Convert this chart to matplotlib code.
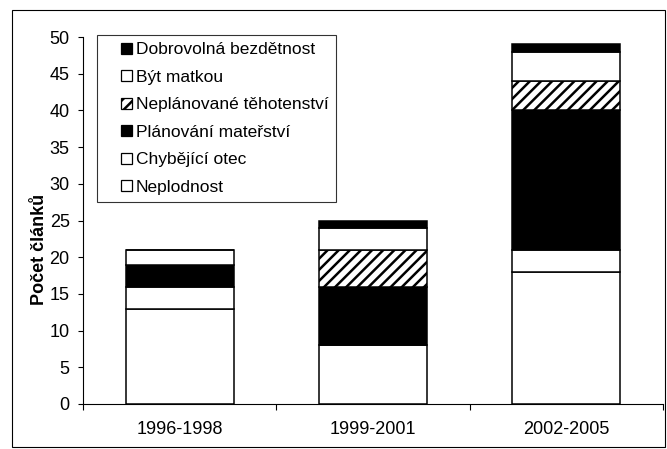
"""Stacked bar chart: Počet článků by period and topic."""

import matplotlib

matplotlib.use("Agg")
import matplotlib.pyplot as plt
from matplotlib.container import BarContainer
from matplotlib.legend_handler import HandlerPatch, update_from_first_child
from matplotlib.patches import Rectangle
import numpy as np

plt.rcParams.update(
    {
        "font.family": ["Liberation Sans", "DejaVu Sans"],
        "font.size": 13,
        "hatch.linewidth": 1.8,
        "hatch.color": "black",
    }
)

periods = ["1996-1998", "1999-2001", "2002-2005"]

# stack order, bottom to top
topics = [
    "Neplodnost",
    "Chybějící otec",
    "Plánování mateřství",
    "Neplánované těhotenství",
    "Být matkou",
    "Dobrovolná bezdětnost",
]
neplodnost = [13, 8, 18]
chybejici_otec = [3, 0, 3]
planovani = [3, 8, 19]
neplanovane = [0, 5, 4]
byt_matkou = [2, 3, 4]
bezdetnost = [0, 1, 1]
series = [neplodnost, chybejici_otec, planovani, neplanovane, byt_matkou, bezdetnost]

faces = ["white", "white", "black", "white", "white", "black"]
hatches = [None, None, None, "///", None, None]

yticks = [0, 5, 10, 15, 20, 25, 30, 35, 40, 45, 50]


def small_square(legend, orig_handle, xdescent, ydescent, width, height, fontsize):
    # Excel-style key: small square sitting at the right end of the handle box
    side = min(width, height)
    return Rectangle((width - side - xdescent, -ydescent), side, side)


W, H = 667, 449
fig = plt.figure(figsize=(W / 100, H / 100), dpi=100)
ax = fig.add_axes([83 / W, 1 - 404 / H, 580 / W, (404 - 37) / H])

# chart-area frame
fig.patches.append(
    Rectangle((12 / W, 2 / H), (665 - 12) / W, (439 - 2) / H,
              transform=fig.transFigure, fill=False, edgecolor="black", lw=0.8)
)

x = np.arange(len(periods))
bottom = np.zeros(len(periods))
handles = []
for name, vals, fc, hatch in zip(topics, series, faces, hatches):
    bars = ax.bar(
        x, vals, width=0.56, bottom=bottom, color=fc, edgecolor="black",
        linewidth=1.1, hatch=hatch, label=name, zorder=3,
    )
    handles.append(bars)
    bottom += np.array(vals)

ax.set_xlim(-0.5, 2.5)
ax.set_ylim(0, 50)
ax.set_yticks(yticks)
ax.set_xticks(x)
ax.set_xticklabels(periods, fontsize=13)
ax.set_xticks([-0.5, 0.5, 1.5, 2.5], minor=True)
ax.tick_params(axis="x", which="major", length=0, pad=12)
ax.tick_params(axis="x", which="minor", length=4, width=0.8, direction="out")
ax.tick_params(axis="y", length=3.6, width=0.8, direction="out", labelsize=13, pad=6)
for side in ("top", "right"):
    ax.spines[side].set_visible(False)
ax.spines["left"].set_linewidth(0.8)
ax.spines["bottom"].set_linewidth(0.8)
ax.set_ylabel("Počet článků", fontsize=13, fontweight="bold")
ax.yaxis.set_label_coords(-0.06, 0.42)

leg = ax.legend(
    handles[::-1], topics[::-1], loc="upper left", bbox_to_anchor=(14 / 580, 1.005),
    fontsize=12.5, frameon=True, fancybox=False, edgecolor="black",
    handlelength=1.6, handleheight=0.6, handletextpad=0.22, labelspacing=0.72,
    borderpad=0.42, borderaxespad=0,
    handler_map={
        BarContainer: HandlerPatch(patch_func=small_square,
                                   update_func=update_from_first_child)
    },
)
leg.get_frame().set_linewidth(0.8)
for patch in leg.get_patches():
    patch.set_linewidth(0.9)

fig.savefig("out.png", dpi=100, facecolor="white")
